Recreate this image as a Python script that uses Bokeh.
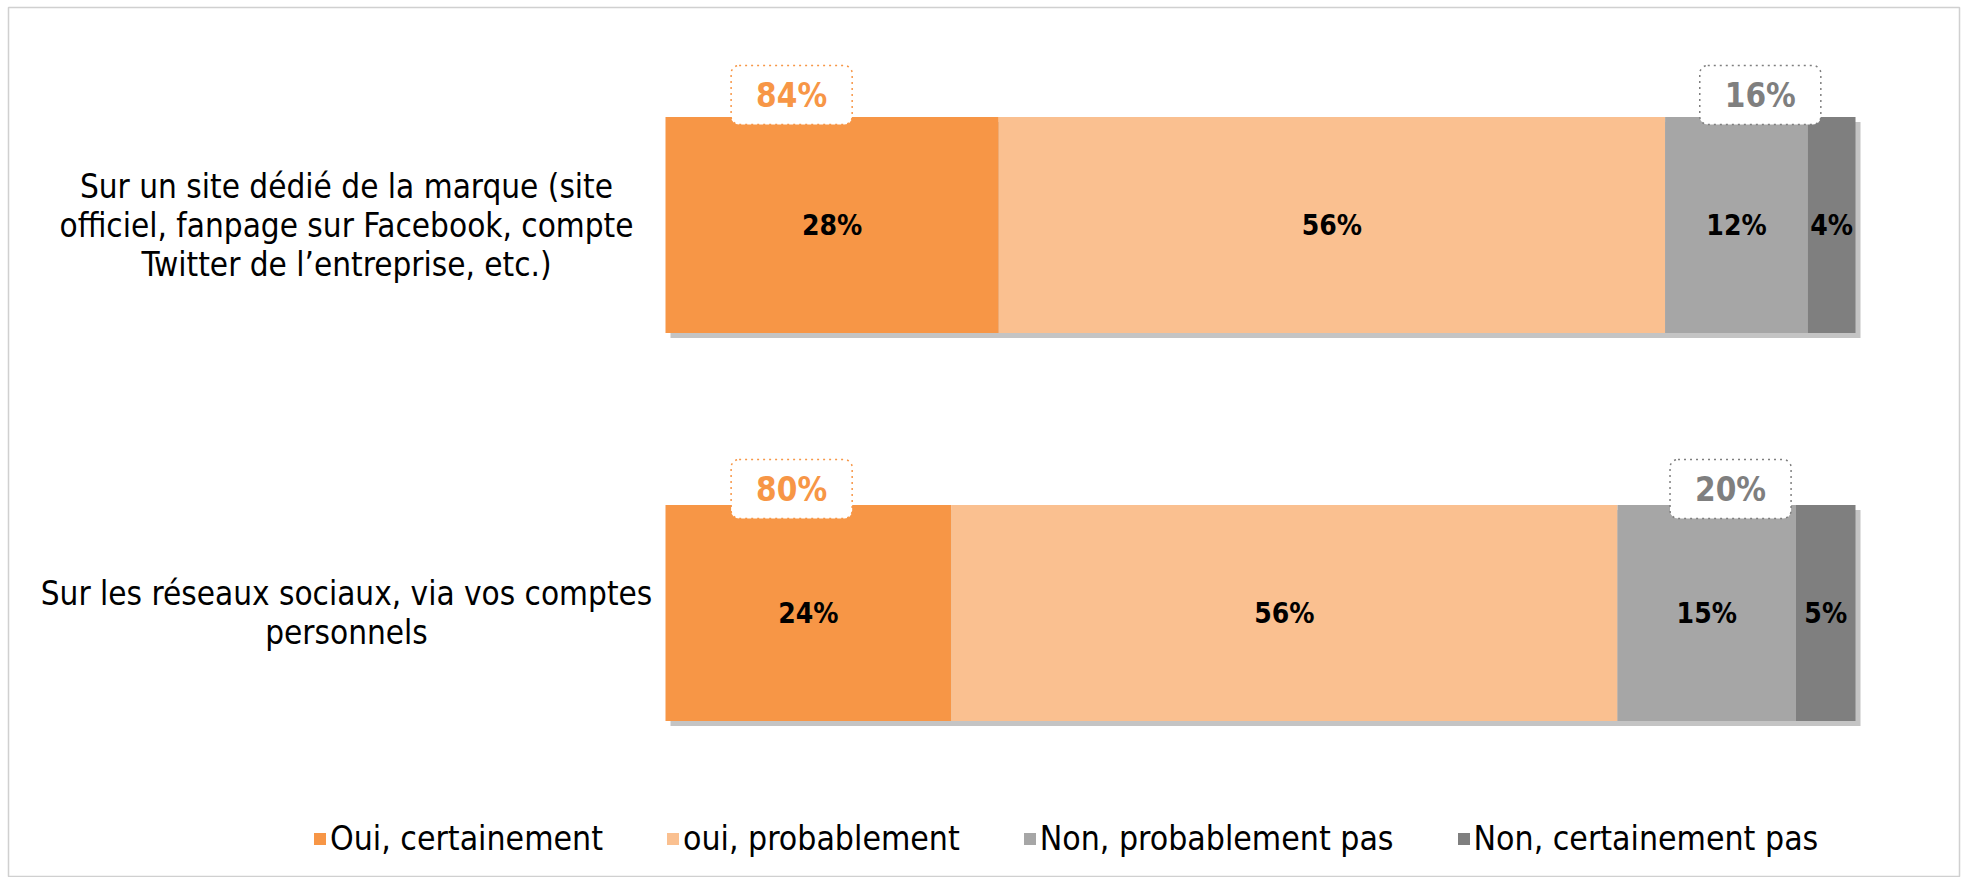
from bokeh.plotting import figure
from bokeh.models import Range1d, ColumnDataSource, Label, Legend, LegendItem
from bokeh.core.properties import value
from bokeh.embed import file_html
from bokeh.resources import INLINE

# ---------------- data ----------------
categories = [
    "Sur un site dédié de la marque (site\nofficiel, fanpage sur Facebook, compte\nTwitter de l’entreprise, etc.)",
    "Sur les réseaux sociaux, via vos comptes\npersonnels",
]
series_names = ["Oui, certainement", "oui, probablement", "Non, probablement pas", "Non, certainement pas"]
oui_certainement = [28, 24]
oui_probablement = [56, 56]
non_probablement = [12, 15]
non_certainement = [4, 5]

series = [oui_certainement, oui_probablement, non_probablement, non_certainement]
colors = ["#F79646", "#FAC090", "#A6A6A6", "#7F7F7F"]

# ---------------- layout constants ----------------
W, H = 1966, 877
BL, BR, BT, BB = 8, 7, 7, 0
PX_PER_PCT = 11.9
X0_PX = 665
ROW0_PX, ROW_STEP_PX = 224.5, 388.0
BAR_PX = 216

FONT = "DejaVu Sans Condensed"

x_start = -(X0_PX - BL) / PX_PER_PCT
x_end = x_start + (W - BL - BR) / PX_PER_PCT
y_top = (BT - ROW0_PX) / ROW_STEP_PX
y_bottom = (H - BB - ROW0_PX) / ROW_STEP_PX

p = figure(width=W, height=H, output_backend="svg", toolbar_location=None,
           x_range=Range1d(x_start, x_end), y_range=Range1d(y_bottom, y_top),
           min_border_left=BL, min_border_right=BR, min_border_top=BT, min_border_bottom=BB)
p.xaxis.visible = False
p.yaxis.visible = False
p.grid.visible = False
p.outline_line_color = "#D0D0D0"
p.outline_line_width = 1.5
p.background_fill_color = "white"
p.border_fill_color = "white"

rows = list(range(len(categories)))
bar_h = BAR_PX / ROW_STEP_PX
dx = 5 / PX_PER_PCT
dy = 5 / ROW_STEP_PX

totals = [sum(s[i] for s in series) for i in rows]
# shadow
p.hbar(y=[r + dy for r in rows], left=[dx] * len(rows), right=[t + dx for t in totals],
       height=bar_h, fill_color="#C4C4C4", line_color=None)

renderers = []
lefts = [0] * len(rows)
for name, vals, col in zip(series_names, series, colors):
    rights = [l + v for l, v in zip(lefts, vals)]
    src = ColumnDataSource(dict(y=rows, left=lefts, right=rights,
                                mid=[(l + r) / 2 for l, r in zip(lefts, rights)],
                                lab=[f"{v}%" for v in vals]))
    r = p.hbar(y="y", left="left", right="right", height=bar_h, source=src,
               fill_color=col, line_color=None)
    renderers.append(r)
    p.text(x="mid", y="y", text="lab", source=src, text_align="center", text_baseline="middle",
           text_font=value(FONT), text_font_style="bold", text_font_size="28px", text_color="black")
    lefts = rights

# category labels
p.text(x=[(346 - X0_PX) / PX_PER_PCT] * len(rows), y=rows, text=categories,
       text_align="center", text_baseline="middle", text_font=value(FONT),
       text_font_size="33px", text_color="black", text_line_height=1.0)

# total boxes
yes_tot = [a + b for a, b in zip(oui_certainement, oui_probablement)]
no_tot = [a + b for a, b in zip(non_probablement, non_certainement)]
box_dy_px = [22, 16]
for i in rows:
    yb = i - bar_h / 2 - box_dy_px[i] / ROW_STEP_PX
    p.add_layout(Label(x=10.6, y=yb, text=f"{yes_tot[i]}%", text_align="center", text_baseline="middle",
                       text_font=FONT, text_font_style="bold", text_font_size="33px", text_color="#F79646",
                       background_fill_color="white", border_line_color="#F79646", border_line_dash="dotted",
                       border_line_width=1.5, padding=(25, 10), border_radius=8))
    xn = yes_tot[i] + non_probablement[i] / 2 + 2
    p.add_layout(Label(x=xn, y=yb, text=f"{no_tot[i]}%", text_align="center", text_baseline="middle",
                       text_font=FONT, text_font_style="bold", text_font_size="33px", text_color="#7F7F7F",
                       background_fill_color="white", border_line_color="#7F7F7F", border_line_dash="dotted",
                       border_line_width=1.5, padding=(25, 10), border_radius=8))

legend = Legend(items=[LegendItem(label=n, renderers=[r]) for n, r in zip(series_names, renderers)],
                orientation="horizontal", location=(304, 19), glyph_width=15, glyph_height=15,
                label_standoff=3, spacing=62, padding=0, margin=0, border_line_color=None,
                background_fill_alpha=0, label_text_font=FONT, label_text_font_size="33.5px",
                label_text_color="black")
p.add_layout(legend)

open("out.html", "w").write(file_html(p, INLINE))
